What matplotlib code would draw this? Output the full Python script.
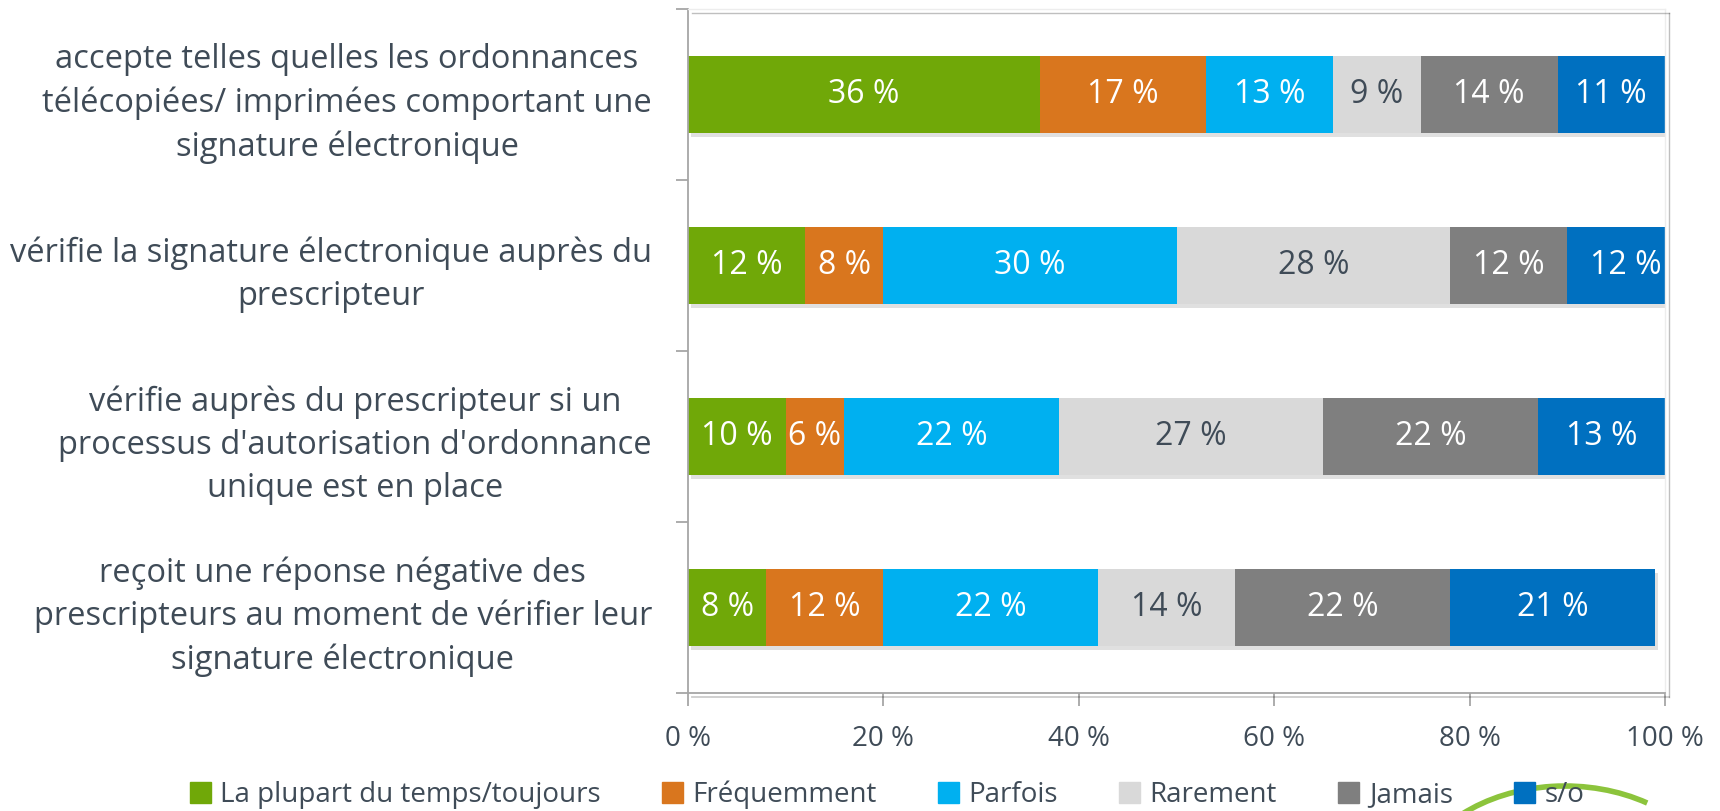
import matplotlib
matplotlib.use("Agg")
import matplotlib.pyplot as plt
import matplotlib.patheffects as pe
from matplotlib.patches import Arc, Patch

plt.rcParams['font.family'] = ['Open Sans', 'DejaVu Sans']

categories = [
    "accepte telles quelles les ordonnances\ntélécopiées/ imprimées comportant une\nsignature électronique",
    "vérifie la signature électronique auprès du\nprescripteur",
    "vérifie auprès du prescripteur si un\nprocessus d'autorisation d'ordonnance\nunique est en place",
    "reçoit une réponse négative des\nprescripteurs au moment de vérifier leur\nsignature électronique",
]
series_names = ["La plupart du temps/toujours", "Fréquemment", "Parfois",
                "Rarement", "Jamais", "s/o"]
values = {
    "La plupart du temps/toujours": [36, 12, 10, 8],
    "Fréquemment": [17, 8, 6, 12],
    "Parfois": [13, 30, 22, 22],
    "Rarement": [9, 28, 27, 14],
    "Jamais": [14, 12, 22, 22],
    "s/o": [11, 12, 13, 21],
}
colors = ["#70A808", "#D9761E", "#00B0F0", "#D9D9D9", "#7F7F7F", "#0070C0"]
label_colors = ["white", "white", "white", "#3F4B57", "white", "white"]
xticks = [0, 20, 40, 60, 80, 100]

text_col = "#3F4B57"
axis_col = "#A6A6A6"

fig = plt.figure(figsize=(17.2, 8.11), dpi=100)
ax = fig.add_axes([688 / 1720, 1 - 693 / 811, (1665 - 688) / 1720, (693 - 9) / 811])

ypos = list(range(len(categories)))
left = [0] * len(categories)
shadow = [pe.SimplePatchShadow(offset=(2, -3), shadow_rgbFace="#000000", alpha=0.12), pe.Normal()]
for name, col, lcol in zip(series_names, colors, label_colors):
    vals = values[name]
    bars = ax.barh(ypos, vals, left=left, height=0.45, color=col, edgecolor="none")
    for b in bars:
        b.set_path_effects(shadow)
    for y, v, l in zip(ypos, vals, left):
        ax.text(l + v / 2, y, f"{v} %", ha="center", va="center",
                color=lcol, fontsize=23)
    left = [a + b for a, b in zip(left, vals)]

ax.set_xlim(0, 100)
ax.set_ylim(3.5, -0.5)
ax.set_xticks(xticks)
ax.set_xticklabels([f"{t} %" for t in xticks], fontsize=20, color=text_col)
ax.set_yticks(ypos)
ax.set_yticklabels(categories, fontsize=23.5, color=text_col,
                   multialignment="center", linespacing=1.4)
ax.tick_params(axis="y", length=0, pad=26)
ax.set_yticks([-0.5, 0.5, 1.5, 2.5, 3.5], minor=True)
ax.tick_params(axis="y", which="minor", length=9, color=axis_col, width=1.3)
ax.tick_params(axis="x", length=9, color=axis_col, width=1.3, pad=14)

for s in ["left", "bottom"]:
    ax.spines[s].set_color(axis_col)
    ax.spines[s].set_linewidth(1.3)
for s in ["top", "right"]:
    ax.spines[s].set_color("#EDEDED")
    ax.spines[s].set_linewidth(1.0)
    ax.spines[s].set_path_effects([pe.SimpleLineShadow(offset=(3, -3), alpha=0.25), pe.Normal()])
ax.spines["bottom"].set_path_effects([pe.SimpleLineShadow(offset=(3, -3), alpha=0.2), pe.Normal()])

# decorative swoosh bottom right (logo fragment)
arc = Arc((1565, -90), 314, 230, theta1=50, theta2=140, transform=None,
          color="#8CC43C", lw=4, zorder=0)
fig.patches.append(arc)

handles = [Patch(color=c) for c in colors]
fig.legend(handles, series_names, loc="center", bbox_to_anchor=(887 / 1720, 1 - 795 / 811),
           ncol=6, frameon=False, fontsize=20, labelcolor=text_col,
           handlelength=0.75, handleheight=0.75, handletextpad=0.35, columnspacing=2.2)

fig.savefig("out.png", dpi=100)
